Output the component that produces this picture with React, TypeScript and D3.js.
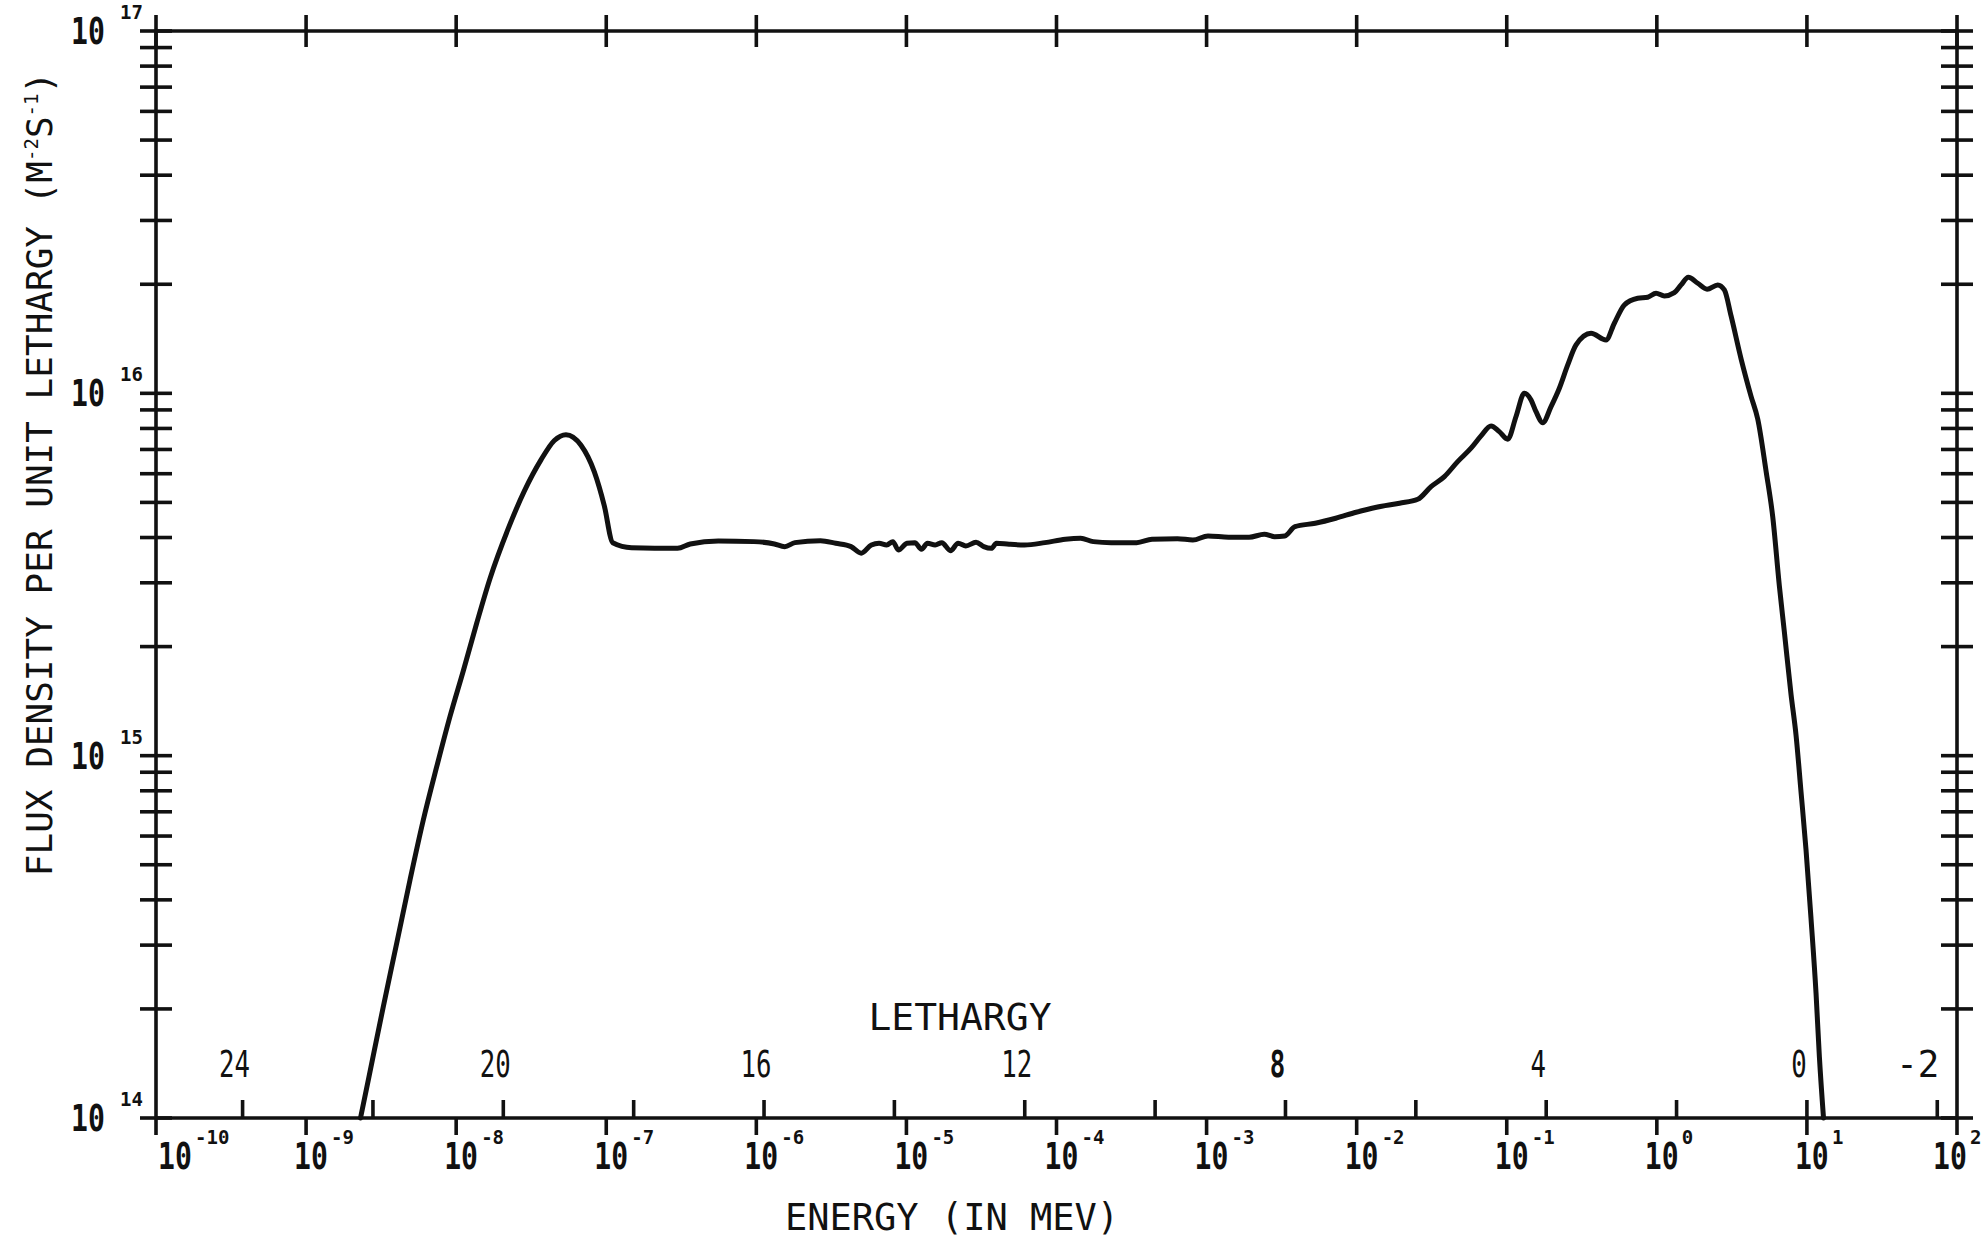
import React from 'react';
import * as d3 from 'd3';

// Neutron energy (MeV) and flux density per unit lethargy (m^-2 s^-1)
const energyMeV = [
  2.305e-9, 2.598e-9, 3.269e-9, 4.016e-9, 4.925e-9, 6.04e-9, 7.42e-9, 9.09e-9, 1.115e-8, 1.37e-8,
  1.681e-8, 2.205e-8, 2.844e-8, 3.674e-8, 4.51e-8, 5.39e-8, 6.79e-8, 8.33e-8, 9.7e-8, 1.105e-7,
  1.476e-7, 2.985e-7, 3.63e-7, 5.58e-7, 9.65e-7, 1.321e-6, 1.545e-6, 1.807e-6, 2.673e-6, 3.38e-6,
  4.275e-6, 5.0e-6, 5.84e-6, 6.57e-6, 7.39e-6, 8.12e-6, 8.84e-6, 1.009e-5, 1.138e-5, 1.259e-5,
  1.382e-5, 1.555e-5, 1.721e-5, 1.967e-5, 2.211e-5, 2.488e-5, 2.909e-5, 3.275e-5, 3.68e-5, 3.98e-5,
  4.83e-5, 6.12e-5, 8.37e-5, 1.145e-4, 1.448e-4, 1.759e-4, 2.315e-4, 3.42e-4, 4.33e-4, 6.4e-4,
  8.1e-4, 1.022e-3, 1.402e-3, 1.918e-3, 2.425e-3, 2.836e-3, 3.317e-3, 3.88e-3, 5.3e-3, 7.25e-3,
  9.92e-3, 1.356e-2, 1.93e-2, 2.553e-2, 3.13e-2, 3.84e-2, 4.71e-2, 5.78e-2, 6.74e-2, 7.86e-2,
  8.92e-2, 0.1015, 0.1153, 0.131, 0.1452, 0.1567, 0.1737, 0.1973, 0.2241, 0.2549,
  0.2895, 0.3644, 0.4587, 0.521, 0.6074, 0.746, 0.87, 0.988, 1.122, 1.308,
  1.45, 1.622, 1.874, 2.161, 2.546, 2.818, 3.124, 3.641, 4.245, 4.706,
  5.34, 5.92, 6.55, 7.07, 7.84, 8.46, 9.14, 9.86, 10.65, 11.5,
  12.1, 12.9,
];

const fluxDensity = [
  1.0e14, 1.273e14, 2.029e14, 3.035e14, 4.54e14, 6.645e14, 9.32e14, 1.281e15, 1.713e15, 2.32e15,
  3.084e15, 4.198e15, 5.37e15, 6.55e15, 7.41e15, 7.69e15, 7.19e15, 6.07e15, 4.9e15, 3.87e15,
  3.75e15, 3.735e15, 3.84e15, 3.914e15, 3.897e15, 3.84e15, 3.775e15, 3.872e15, 3.921e15, 3.857e15,
  3.775e15, 3.62e15, 3.815e15, 3.857e15, 3.815e15, 3.897e15, 3.696e15, 3.857e15, 3.872e15, 3.712e15,
  3.857e15, 3.815e15, 3.872e15, 3.679e15, 3.857e15, 3.792e15, 3.882e15, 3.775e15, 3.735e15, 3.857e15,
  3.832e15, 3.815e15, 3.872e15, 3.956e15, 3.981e15, 3.897e15, 3.872e15, 3.872e15, 3.956e15, 3.971e15,
  3.938e15, 4.04e15, 4.007e15, 4.007e15, 4.084e15, 4.022e15, 4.04e15, 4.287e15, 4.38e15, 4.52e15,
  4.697e15, 4.849e15, 4.974e15, 5.1e15, 5.526e15, 5.89e15, 6.48e15, 7.056e15, 7.63e15, 8.13e15,
  7.84e15, 7.47e15, 8.63e15, 1.0007e16, 9.59e15, 8.9e15, 8.3e15, 9.19e15, 1.033e16, 1.198e16,
  1.36e16, 1.465e16, 1.404e16, 1.561e16, 1.754e16, 1.83e16, 1.842e16, 1.889e16, 1.857e16, 1.896e16,
  1.992e16, 2.091e16, 2.013e16, 1.938e16, 1.992e16, 1.93e16, 1.635e16, 1.245e16, 9.81e15, 8.48e15,
  6.11e15, 4.56e15, 2.946e15, 2.2e15, 1.474e15, 1.141e15, 7.93e14, 5.51e14, 3.55e14, 2.213e14,
  1.482e14, 1.0e14,
];

// Axis decades (powers of ten) and lethargy scale
const energyExponents = [-10, -9, -8, -7, -6, -5, -4, -3, -2, -1, 0, 1, 2];
const fluxExponents = [14, 15, 16, 17];
const lethargyTicks = [24, 22, 20, 18, 16, 14, 12, 10, 8, 6, 4, 2, 0, -2];
const lethargyLabels = [24, 20, 16, 12, 8, 4, 0, -2];
const lethargyReferenceMeV = 10;

const W = 1983;
const H = 1244;
const M = { left: 156, right: 1957, top: 31, bottom: 1118 };
const TICK = 16;
const MONO = '"DejaVu Sans Mono", "Liberation Mono", monospace';
const TEN_SCALE = 0.74; // narrow the "10" of power labels
const TEN_W = 34;

// "10" followed by a raised exponent, as two separate text runs
function PowerLabel({ x, y, exp, gap }: { x: number; y: number; exp: number; gap: number }) {
  return (
    <g fontFamily={MONO} fontWeight="bold" fill="#111">
      <text transform={`translate(${x},${y}) scale(${TEN_SCALE},1)`} fontSize={38}>
        10
      </text>
      <text x={x + TEN_W + gap} y={y - 25} fontSize={19}>
        {String(exp)}
      </text>
    </g>
  );
}

export default function App() {
  const x = d3.scaleLog().domain([1e-10, 1e2]).range([M.left, M.right]);
  const y = d3.scaleLog().domain([1e14, 1e17]).range([M.bottom, M.top]);

  const points = energyMeV.map((e, i) => [e, fluxDensity[i]] as [number, number]);
  const line = d3
    .line<[number, number]>()
    .x((d) => x(d[0]))
    .y((d) => y(d[1]))
    .curve(d3.curveMonotoneX);

  // flux ticks: every 1..9 x 10^n plus the top decade
  const fluxTicks: number[] = [];
  fluxExponents.slice(0, -1).forEach((p) => {
    for (let k = 1; k <= 9; k++) fluxTicks.push(k * Math.pow(10, p));
  });
  fluxTicks.push(1e17);

  const stroke = '#111';
  const axisW = 3.6;

  return (
    <svg
      width={W}
      height={H}
      viewBox={`0 0 ${W} ${H}`}
      style={{ position: 'absolute', left: 0, top: 0, display: 'block', background: '#fff' }}
    >
      <rect x={0} y={0} width={W} height={H} fill="#fff" />

      {/* frame */}
      <g stroke={stroke} strokeWidth={axisW} strokeLinecap="butt" fill="none">
        <line x1={M.left} x2={M.right} y1={M.top} y2={M.top} />
        <line x1={M.left} x2={M.right} y1={M.bottom} y2={M.bottom} />
        <line x1={M.left} x2={M.left} y1={M.top} y2={M.bottom} />
        <line x1={M.right} x2={M.right} y1={M.top} y2={M.bottom} />
      </g>

      {/* flux ticks, crossing both vertical axes */}
      <g stroke={stroke} strokeWidth={axisW}>
        {fluxTicks.map((v, i) => (
          <g key={i}>
            <line x1={M.left - TICK} x2={M.left + TICK} y1={y(v)} y2={y(v)} />
            <line x1={M.right - TICK} x2={M.right + TICK} y1={y(v)} y2={y(v)} />
          </g>
        ))}
      </g>

      {/* energy decade ticks: crossing on top, downward on bottom */}
      <g stroke={stroke} strokeWidth={axisW}>
        {energyExponents.map((p) => {
          const xv = x(Math.pow(10, p));
          return (
            <g key={p}>
              <line x1={xv} x2={xv} y1={M.top - TICK} y2={M.top + TICK} />
              <line x1={xv} x2={xv} y1={M.bottom} y2={M.bottom + 17} />
            </g>
          );
        })}
      </g>

      {/* lethargy ticks, upward on the bottom axis */}
      <g stroke={stroke} strokeWidth={axisW}>
        {lethargyTicks.map((u) => {
          const xv = x(lethargyReferenceMeV * Math.exp(-u));
          return <line key={u} x1={xv} x2={xv} y1={M.bottom - 18} y2={M.bottom} />;
        })}
      </g>

      {/* lethargy labels */}
      <g fontFamily={MONO} fontSize={37} fill={stroke}>
        {lethargyLabels.map((u) => {
          const xv = x(lethargyReferenceMeV * Math.exp(-u));
          const label = String(u);
          const neg = u < 0;
          return (
            <text
              key={u}
              x={neg ? xv + 2 : xv - 8}
              y={M.bottom - 41}
              textAnchor={neg ? 'end' : 'middle'}
              fontWeight={u === 8 ? 'bold' : 'normal'}
              textLength={label.length * 15.5 + (neg ? 12 : 0)}
              lengthAdjust="spacingAndGlyphs"
            >
              {label}
            </text>
          );
        })}
        <text x={960} y={M.bottom - 88} textAnchor="middle" fontSize={38}>
          LETHARGY
        </text>
      </g>

      {/* energy decade labels */}
      {energyExponents.map((p) => {
        const xv = x(Math.pow(10, p));
        const sx = Math.min(Math.max(xv - 12, M.left + 2), W - 50);
        return <PowerLabel key={p} x={sx} y={M.bottom + 51} exp={p} gap={3} />;
      })}

      {/* flux decade labels */}
      {fluxExponents.map((p) => (
        <PowerLabel key={p} x={105 - TEN_W} y={y(Math.pow(10, p)) + 13} exp={p} gap={15} />
      ))}

      {/* axis titles */}
      <text x={952} y={1230} textAnchor="middle" fontFamily={MONO} fontSize={37} fill={stroke}>
        ENERGY (IN MEV)
      </text>
      <text
        transform="translate(52,474) rotate(-90)"
        textAnchor="middle"
        fontFamily={MONO}
        fontSize={36}
        fill={stroke}
      >
        FLUX DENSITY PER UNIT LETHARGY (M
        <tspan dy={-14} fontSize={19}>-2</tspan>
        <tspan dy={14}>S</tspan>
        <tspan dy={-14} fontSize={19}>-1</tspan>
        <tspan dy={14}>)</tspan>
      </text>

      {/* spectrum */}
      <path d={line(points) || ''} fill="none" stroke={stroke} strokeWidth={5} strokeLinejoin="round" strokeLinecap="round" />
    </svg>
  );
}
